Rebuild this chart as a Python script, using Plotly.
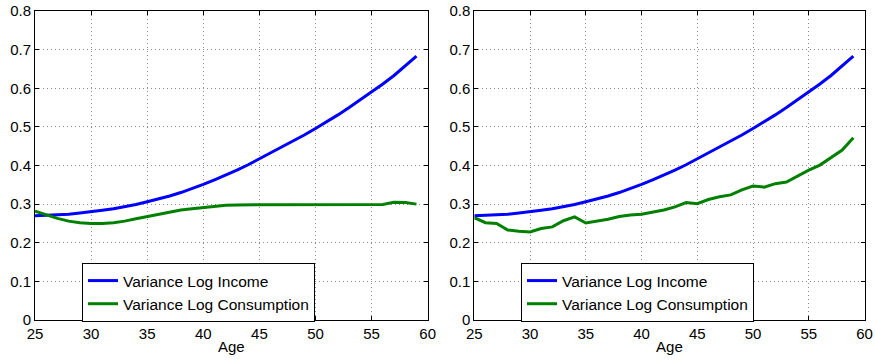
import plotly.graph_objects as go

ages = list(range(25, 60))

income = [0.270, 0.271, 0.272, 0.274, 0.277, 0.280, 0.284, 0.288, 0.293, 0.299,
          0.306, 0.313, 0.321, 0.330, 0.340, 0.351, 0.363, 0.375, 0.388, 0.402,
          0.417, 0.432, 0.447, 0.463, 0.479, 0.496, 0.513, 0.531, 0.550, 0.570,
          0.590, 0.611, 0.633, 0.657, 0.683]

cons_left = [0.282, 0.272, 0.263, 0.256, 0.252, 0.250, 0.250, 0.252, 0.256, 0.262,
             0.268, 0.274, 0.280, 0.285, 0.288, 0.291, 0.294, 0.297, 0.298, 0.298,
             0.298, 0.298, 0.298, 0.298, 0.298, 0.298, 0.298, 0.298, 0.298, 0.298,
             0.298, 0.299, 0.305, 0.304, 0.300]

cons_right = [0.265, 0.252, 0.250, 0.233, 0.230, 0.228, 0.237, 0.241, 0.257, 0.267,
              0.251, 0.256, 0.261, 0.268, 0.272, 0.274, 0.279, 0.285, 0.293, 0.304,
              0.301, 0.312, 0.319, 0.324, 0.337, 0.347, 0.344, 0.353, 0.357, 0.373,
              0.388, 0.401, 0.421, 0.440, 0.472]

x_ticks = [25, 30, 35, 40, 45, 50, 55, 60]
x_tick_labels = ["25", "30", "35", "40", "45", "50", "55", "60"]
y_ticks = [0, 0.1, 0.2, 0.3, 0.4, 0.5, 0.6, 0.7, 0.8]
y_tick_labels = ["0", "0.1", "0.2", "0.3", "0.4", "0.5", "0.6", "0.7", "0.8"]

BLUE = "#0000ff"
GREEN = "#008000"
W, H = 875, 360
FONT = "Liberation Sans, Arial, Helvetica, sans-serif"
LW = 3
GRID = "#8c8c8c"
GRIDDASH = "1px,3px"

fig = go.Figure()
fig.add_trace(go.Scatter(x=ages, y=income, mode="lines", name="Variance Log Income",
                         line=dict(color=BLUE, width=LW), xaxis="x", yaxis="y", legend="legend"))
fig.add_trace(go.Scatter(x=ages, y=cons_left, mode="lines", name="Variance Log Consumption",
                         line=dict(color=GREEN, width=LW), xaxis="x", yaxis="y", legend="legend"))
fig.add_trace(go.Scatter(x=ages, y=income, mode="lines", name="Variance Log Income",
                         line=dict(color=BLUE, width=LW), xaxis="x2", yaxis="y2", legend="legend2"))
fig.add_trace(go.Scatter(x=ages, y=cons_right, mode="lines", name="Variance Log Consumption",
                         line=dict(color=GREEN, width=LW), xaxis="x2", yaxis="y2", legend="legend2"))

def xa(domain, anchor):
    return dict(domain=domain, anchor=anchor, range=[25, 60], tickvals=x_ticks,
                ticktext=x_tick_labels,
                automargin=False, ticklabeloverflow="allow",
                showline=True, linecolor="black", linewidth=1, mirror="ticks",
                ticks="inside", ticklen=4, tickcolor="black",
                showgrid=True, gridcolor=GRID, griddash=GRIDDASH, gridwidth=1,
                zeroline=False, tickfont=dict(size=15, color="black", family=FONT),
                title=dict(text="Age", font=dict(size=15, color="black", family=FONT), standoff=0))

def ya(domain, anchor):
    return dict(domain=domain, anchor=anchor, range=[0, 0.8], tickvals=y_ticks,
                ticktext=y_tick_labels, automargin=False, ticklabeloverflow="allow",
                showline=True, linecolor="black", linewidth=1, mirror="ticks",
                ticks="inside", ticklen=4, tickcolor="black",
                showgrid=True, gridcolor=GRID, griddash=GRIDDASH, gridwidth=1,
                zeroline=False, tickfont=dict(size=15, color="black", family=FONT))

ydom = [1 - 320 / H, 1 - 11 / H]
xdom2 = [474.3 / W, 864.5 / W]
leg = dict(bgcolor="white", bordercolor="black", borderwidth=1,
           font=dict(size=15.5, color="black", family=FONT),
           xanchor="left", yanchor="top", y=1 - 263 / H, tracegroupgap=0,
           itemclick=False)

fig.update_layout(
    width=W, height=H, margin=dict(l=0, r=0, t=0, b=0),
    paper_bgcolor="white", plot_bgcolor="white",
    font=dict(family=FONT, color="black"),
    xaxis=xa([35 / W, 427.7 / W], "y"),
    yaxis=ya(ydom, "x"),
    xaxis2=xa(xdom2, "y2"),
    yaxis2=ya(ydom, "x2"),
    # overlay axis carrying only the final "60" label of the right panel
    xaxis3=dict(domain=xdom2, anchor="y2", overlaying="x2", side="bottom",
                range=[25, 60], tickvals=[x_ticks[-1]], ticktext=[x_tick_labels[-1]],
                automargin=False, ticklabeloverflow="allow",
                showline=False, showgrid=False, zeroline=False, ticks="",
                tickfont=dict(size=15, color="black", family=FONT)),
    legend=dict(leg, x=82 / W),
    legend2=dict(leg, x=521 / W),
    showlegend=True,
)

fig.write_html("out.html", config={"displayModeBar": False},
               post_script="document.body.style.margin='0';")
